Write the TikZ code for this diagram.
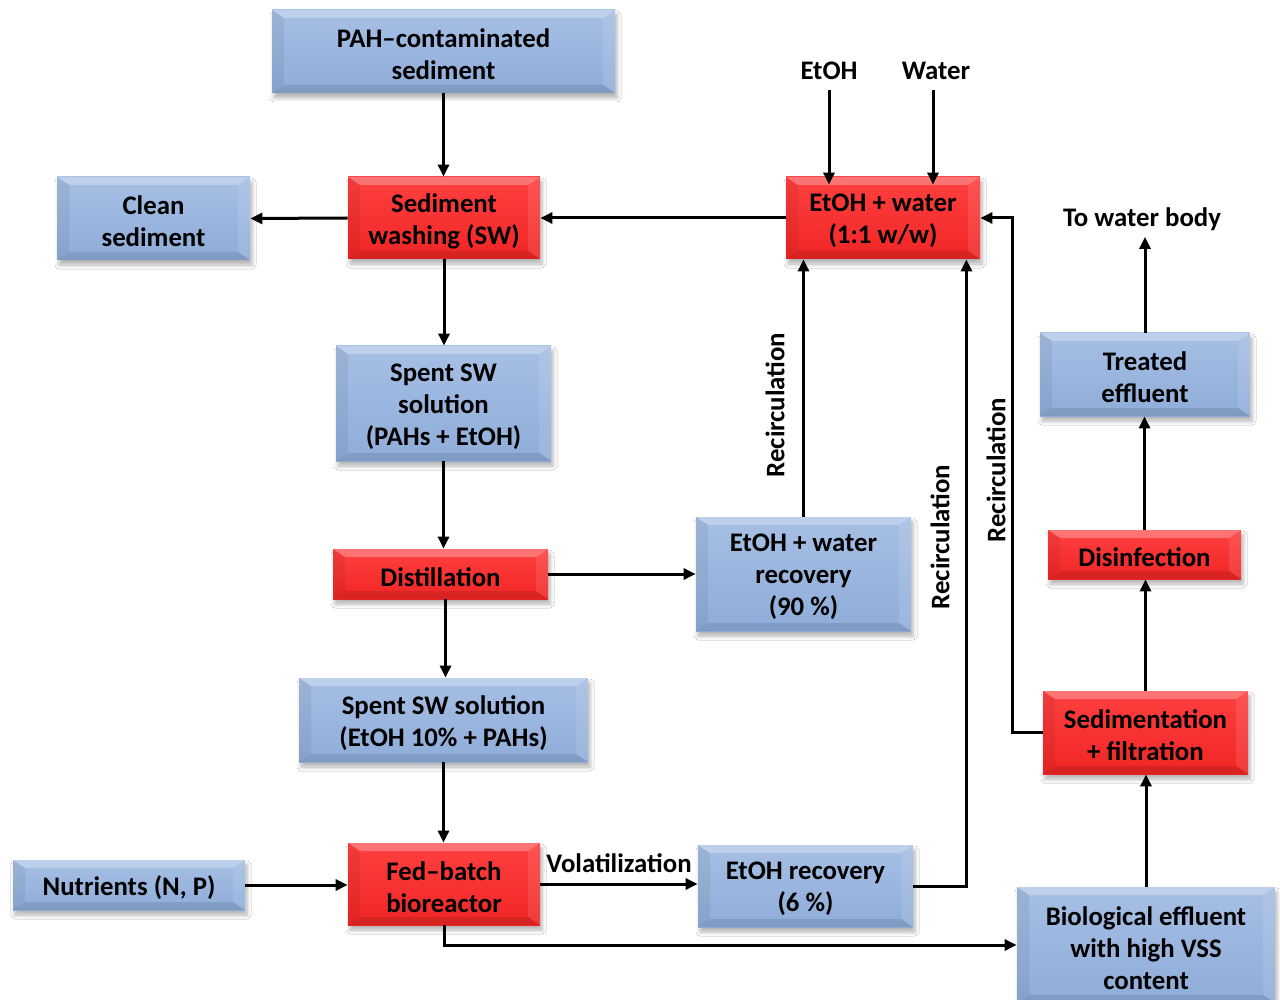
\documentclass[tikz,border=0pt]{standalone}
\usepackage{fontspec}
\setmainfont{Carlito}
\usetikzlibrary{arrows.meta,shadows.blur,calc}
\definecolor{bluetop}{HTML}{A6BFE4}
\definecolor{bluebot}{HTML}{8FADD9}
\definecolor{redtop}{HTML}{FF4040}
\definecolor{redbot}{HTML}{F02525}
\tikzset{
  bevel/.style={path picture={
    \coordinate (NW) at (path picture bounding box.north west);
    \coordinate (NE) at (path picture bounding box.north east);
    \coordinate (SW) at (path picture bounding box.south west);
    \coordinate (SE) at (path picture bounding box.south east);
    \fill[white,opacity=.28] (NW) -- (NE) -- ([xshift=-6pt,yshift=-4pt]NE) -- ([xshift=6pt,yshift=-4pt]NW) -- cycle;
    \fill[black,opacity=.06] (NW) -- ([xshift=6pt,yshift=-4pt]NW) -- ([xshift=6pt,yshift=4pt]SW) -- (SW) -- cycle;
    \fill[white,opacity=.10] (NE) -- ([xshift=-6pt,yshift=-4pt]NE) -- ([xshift=-6pt,yshift=4pt]SE) -- (SE) -- cycle;
    \fill[black,opacity=.10] (SW) -- ([xshift=6pt,yshift=4pt]SW) -- ([xshift=-6pt,yshift=4pt]SE) -- (SE) -- cycle;
  }},
  basebox/.style={blur shadow={shadow xshift=1pt,shadow yshift=-2.5pt,shadow blur radius=2pt,shadow blur steps=6,shadow opacity=30},
    bevel, inner sep=0pt},
  bluebox/.style={basebox, top color=bluetop, bottom color=bluebot},
  redbox/.style={basebox, top color=redtop, bottom color=redbot},
  boxtext/.style={align=center, inner sep=0pt, font=\fontsize{13.4}{16}\selectfont\bfseries},
  sz/.style 2 args={minimum width=#1*0.5pt, minimum height=#2*0.5pt},
  lab/.style={font=\fontsize{13.4}{16}\selectfont\bfseries, inner sep=1pt},
  arr/.style={line width=1.5pt, -{Triangle[length=6pt,width=5.5pt]}},
}
\newcommand\mkbox[5]{%
  \node[#1,sz=#2] (#3) at #4 {};
  \node[boxtext] (#3-t) at ([yshift=-1.5pt]#3.center) {#5};}
\begin{document}
\begin{tikzpicture}[x=0.5pt,y=-0.5pt]
\useasboundingbox[fill=white] (0,0) rectangle (1280,1000);
% boxes
\mkbox{bluebox}{{343}{83}}{pah}{(443.5,51.5)}{PAH–contaminated\\sediment}
\mkbox{bluebox}{{193}{83}}{clean}{(153.5,218.5)}{Clean\\sediment}
\mkbox{redbox}{{192}{82}}{sw}{(444,218)}{Sediment\\washing (SW)}
\mkbox{redbox}{{194}{82}}{ewb}{(883,218)}{EtOH + water\\(1:1 w/w)}
\mkbox{bluebox}{{215}{115}}{spent}{(443.5,403.5)}{Spent SW\\solution\\(PAHs + EtOH)}
\mkbox{redbox}{{215}{50}}{dist}{(440.5,574)}{Distillation}
\mkbox{bluebox}{{215}{114}}{ewr}{(803.5,574)}{EtOH + water\\recovery\\(90 \%)}
\mkbox{bluebox}{{289}{84}}{sp2}{(443.5,720)}{Spent SW solution\\(EtOH 10\% + PAHs)}
\mkbox{redbox}{{192}{82}}{bio}{(444,884)}{Fed–batch\\bioreactor}
\mkbox{bluebox}{{232}{50}}{nut}{(129,885)}{Nutrients (N, P)}
\mkbox{bluebox}{{215}{82}}{er6}{(805.5,886)}{EtOH recovery\\(6 \%)}
\mkbox{bluebox}{{258}{116}}{beff}{(1146,945)}{Biological effluent\\with high VSS\\content}
\mkbox{redbox}{{205}{83}}{sed}{(1145.5,732.5)}{Sedimentation\\+ filtration}
\mkbox{redbox}{{193}{49}}{dis}{(1144.5,554.5)}{Disinfection}
\mkbox{bluebox}{{210}{83}}{te}{(1145,374.5)}{Treated\\effluent}
% free labels
\node[lab] (etoh) at (829,71) {EtOH};
\node[lab] (water) at (936,71) {Water};
\node[lab] (tw) at (1142,219) {To water body};
\node[lab] (vol) at (619,863) {Volatilization};
\node[lab,rotate=90] (rc1) at (775,405) {Recirculation};
\node[lab,rotate=90] (rc2) at (940,537) {Recirculation};
\node[lab,rotate=90] (rc3) at (996,470) {Recirculation};
% connectors
\draw[arr] (pah.south) -- (pah.south |- sw.north);
\draw[arr] (sw.west) -- (clean.east);
\draw[arr] (ewb.west) -- (sw.east);
\draw[arr] ([yshift=-4pt]etoh.south) -- ([yshift=-4pt]etoh.south |- ewb.north);
\draw[arr] ([xshift=-1.5pt,yshift=-4pt]water.south) -- ([xshift=-1.5pt,yshift=-4pt]water.south |- ewb.north);
\draw[arr] (sw.south) -- (sw.south |- spent.north);
\draw[arr] (spent.south) -- (spent.south |- dist.north);
\draw[arr] (dist.east) -- (ewr.west);
\draw[arr] (ewr.north) -- (ewr.north |- ewb.south);
\draw[arr] ([xshift=2.5pt]dist.south) -- ([xshift=2.5pt]dist.south |- sp2.north);
\draw[arr] (sp2.south) -- (sp2.south |- bio.north);
\draw[arr] (nut.east) -- (nut.east -| bio.west);
\draw[arr] (bio.east) -- (bio.east -| er6.west);
\draw[arr] (er6.east) -| ([xshift=-7pt]ewb.south east);
\draw[arr] (bio.south) |- (beff.west);
\draw[arr] (beff.north) -- (beff.north |- sed.south);
\draw[arr] (sed.west) -- ++(-30,0) |- (ewb.east);
\draw[arr] (sed.north) -- (sed.north |- dis.south);
\draw[arr] (dis.north) -- (dis.north |- te.south);
\draw[arr] (te.north) -- ([yshift=-2pt]te.north |- tw.south);
\end{tikzpicture}
\end{document}
